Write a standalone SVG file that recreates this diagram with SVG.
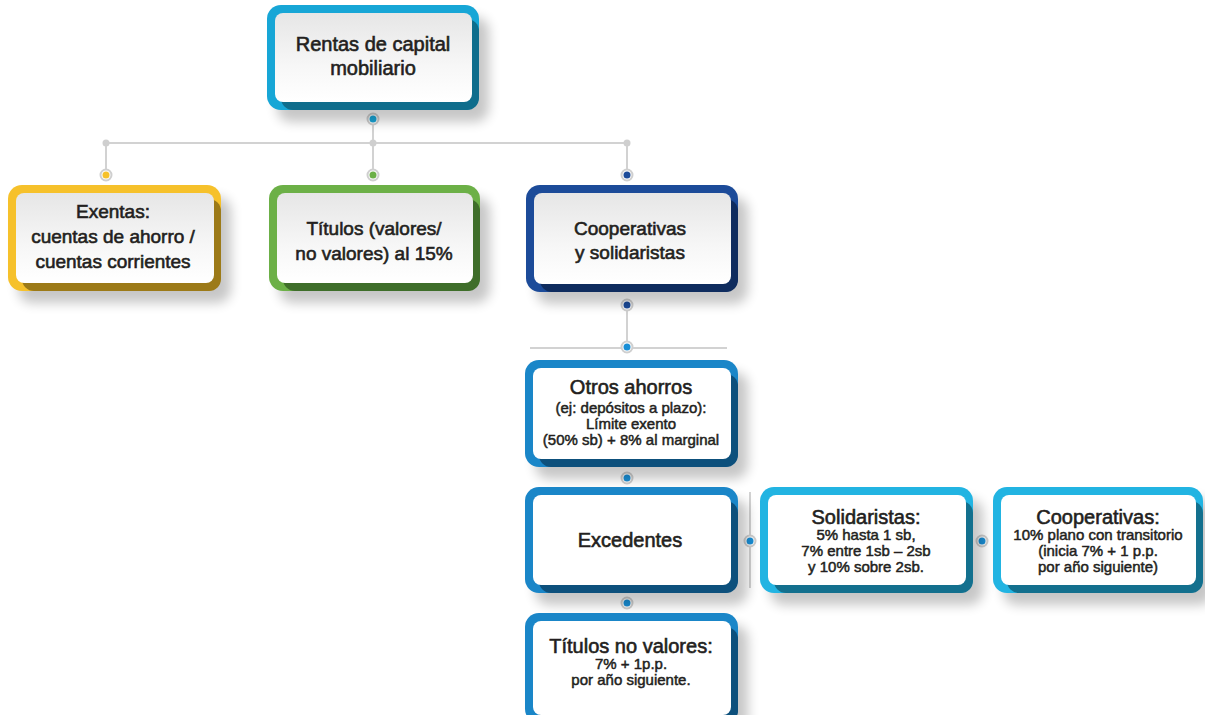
<svg xmlns="http://www.w3.org/2000/svg" width="1205" height="715" viewBox="0 0 1205 715">
<defs>
<style>
.t{font-family:"Liberation Sans",Arial,sans-serif;fill:#231f20;text-anchor:middle;stroke:#231f20;stroke-width:0.6}
.h20{font-size:20px}
.h19{font-size:19px}
.s15{font-size:15px;stroke-width:0.5}
.ln{stroke:#d2d2d2;stroke-width:2;fill:none}
.ring{fill:#fff;stroke:#cfcfcf;stroke-width:2}
.jn{fill:#cfcfcf}
.shd{fill:#000;opacity:0.22;filter:url(#blur)}
.cardg{fill:url(#cg)}
.cardw{fill:#fff}
</style>
<linearGradient id="cg" x1="0" y1="0" x2="0" y2="1">
<stop offset="0" stop-color="#e6e6e6"/>
<stop offset="0.6" stop-color="#f7f7f7"/>
<stop offset="1" stop-color="#ffffff"/>
</linearGradient>
<filter id="blur" x="-20%" y="-20%" width="150%" height="160%">
<feGaussianBlur stdDeviation="6"/>
</filter>
</defs>
<rect width="1205" height="715" fill="#fff"/>

<g id="connectors">
<line class="ln" x1="373" y1="119" x2="373" y2="175"/>
<line class="ln" x1="106" y1="143" x2="627" y2="143"/>
<line class="ln" x1="106" y1="143" x2="106" y2="175"/>
<line class="ln" x1="627" y1="143" x2="627" y2="175"/>
<line class="ln" x1="627" y1="305" x2="627" y2="347"/>
<line class="ln" x1="530" y1="348" x2="727" y2="348"/>
<line class="ln" x1="750" y1="492" x2="750" y2="588"/>
<circle class="jn" cx="106" cy="143" r="3.5"/>
<circle class="jn" cx="373" cy="143" r="3.5"/>
<circle class="jn" cx="627" cy="143" r="3.5"/>
<circle class="ring" cx="373" cy="119" r="5.5"/><circle cx="373" cy="119" r="3.5" fill="#1aa6d8"/>
<circle class="ring" cx="106" cy="175" r="5.5"/><circle cx="106" cy="175" r="3.5" fill="#f6c12b"/>
<circle class="ring" cx="373" cy="175" r="5.5"/><circle cx="373" cy="175" r="3.5" fill="#6cb047"/>
<circle class="ring" cx="627" cy="175" r="5.5"/><circle cx="627" cy="175" r="3.5" fill="#1c4b99"/>
<circle class="ring" cx="627" cy="305" r="5.5"/><circle cx="627" cy="305" r="3.5" fill="#1c4b99"/>
<circle class="ring" cx="627" cy="347" r="5.5"/><circle cx="627" cy="347" r="3.5" fill="#1a8fd6"/>
<circle class="ring" cx="627" cy="478" r="5.5"/><circle cx="627" cy="478" r="3.5" fill="#1a8fd6"/>
<circle class="ring" cx="750" cy="541" r="5.5"/><circle cx="750" cy="541" r="3.5" fill="#1a8fd6"/>
<circle class="ring" cx="982" cy="541" r="5.5"/><circle cx="982" cy="541" r="3.5" fill="#1a8fd6"/>
<circle class="ring" cx="627" cy="603" r="5.5"/><circle cx="627" cy="603" r="3.5" fill="#1a8fd6"/>
</g>

<g id="n-rentas">
<rect class="shd" x="277" y="17" width="212" height="105" rx="14"/>
<rect x="267" y="5" width="212" height="105" rx="14" fill="#17a6d6"/>
<rect x="281" y="19" width="198" height="91" rx="12" fill="#0f6d8c"/>
<rect class="cardg" x="275" y="13" width="197" height="89" rx="8"/>
<text class="t h20" x="373" y="51">Rentas de capital</text>
<text class="t h20" x="373" y="75">mobiliario</text>
</g>

<g id="n-exentas">
<rect class="shd" x="18" y="197" width="213" height="106" rx="14"/>
<rect x="8" y="185" width="213" height="106" rx="14" fill="#f6c12b"/>
<rect x="22" y="199" width="199" height="92" rx="12" fill="#9c7a18"/>
<rect class="cardg" x="16" y="193" width="198" height="90" rx="8"/>
<text class="t h19" x="113" y="218">Exentas:</text>
<text class="t h19" x="113" y="243">cuentas de ahorro /</text>
<text class="t h19" x="113" y="268">cuentas corrientes</text>
</g>

<g id="n-titulos">
<rect class="shd" x="279" y="197" width="211" height="106" rx="14"/>
<rect x="269" y="185" width="211" height="106" rx="14" fill="#6cb047"/>
<rect x="283" y="199" width="197" height="92" rx="12" fill="#3f6e2a"/>
<rect class="cardg" x="277" y="193" width="196" height="90" rx="8"/>
<text class="t h19" x="374" y="235">Títulos (valores/</text>
<text class="t h19" x="374" y="260">no valores) al 15%</text>
</g>

<g id="n-coopsol">
<rect class="shd" x="536" y="197" width="212" height="107" rx="14"/>
<rect x="526" y="185" width="212" height="107" rx="14" fill="#1c4b99"/>
<rect x="540" y="199" width="198" height="93" rx="12" fill="#0f2c5e"/>
<rect class="cardg" x="534" y="193" width="197" height="91" rx="8"/>
<text class="t h19" x="630" y="235">Cooperativas</text>
<text class="t h19" x="630" y="259">y solidaristas</text>
</g>

<g id="n-otros">
<rect class="shd" x="535" y="372" width="213" height="107" rx="14"/>
<rect x="525" y="360" width="213" height="107" rx="14" fill="#1a86c8"/>
<rect x="539" y="374" width="199" height="93" rx="12" fill="#0d507c"/>
<rect class="cardw" x="533" y="368" width="198" height="91" rx="8"/>
<text class="t h20" x="631" y="394">Otros ahorros</text>
<text class="t s15" x="631" y="413">(ej: depósitos a plazo):</text>
<text class="t s15" x="631" y="429">Límite exento</text>
<text class="t s15" x="631" y="445">(50% sb) + 8% al marginal</text>
</g>

<g id="n-excedentes">
<rect class="shd" x="535" y="499" width="213" height="106" rx="14"/>
<rect x="525" y="487" width="213" height="106" rx="14" fill="#1a86c8"/>
<rect x="539" y="501" width="199" height="92" rx="12" fill="#0d507c"/>
<rect class="cardw" x="533" y="495" width="198" height="90" rx="8"/>
<text class="t h20" x="630" y="547">Excedentes</text>
</g>

<g id="n-solidaristas">
<rect class="shd" x="770" y="499" width="213" height="106" rx="14"/>
<rect x="760" y="487" width="213" height="106" rx="14" fill="#22b4e2"/>
<rect x="774" y="501" width="199" height="92" rx="12" fill="#13708e"/>
<rect class="cardw" x="768" y="495" width="198" height="90" rx="8"/>
<text class="t h20" x="866" y="524">Solidaristas:</text>
<text class="t s15" x="866" y="540">5% hasta 1 sb,</text>
<text class="t s15" x="866" y="556">7% entre 1sb – 2sb</text>
<text class="t s15" x="866" y="572">y 10% sobre 2sb.</text>
</g>

<g id="n-cooperativas">
<rect class="shd" x="1003" y="499" width="210" height="106" rx="14"/>
<rect x="993" y="487" width="210" height="106" rx="14" fill="#22b4e2"/>
<rect x="1007" y="501" width="196" height="92" rx="12" fill="#13708e"/>
<rect class="cardw" x="1001" y="495" width="195" height="90" rx="8"/>
<text class="t h20" x="1098" y="524">Cooperativas:</text>
<text class="t s15" x="1098" y="540">10% plano con transitorio</text>
<text class="t s15" x="1098" y="556">(inicia 7% + 1 p.p.</text>
<text class="t s15" x="1098" y="572">por año siguiente)</text>
</g>

<g id="n-titulosnv">
<rect class="shd" x="535" y="625" width="213" height="110" rx="14"/>
<rect x="525" y="613" width="213" height="110" rx="14" fill="#1a86c8"/>
<rect x="539" y="627" width="199" height="96" rx="12" fill="#0d507c"/>
<rect class="cardw" x="533" y="621" width="198" height="94" rx="8"/>
<text class="t h20" x="631" y="653">Títulos no valores:</text>
<text class="t s15" x="631" y="669">7% + 1p.p.</text>
<text class="t s15" x="631" y="685">por año siguiente.</text>
</g>
</svg>
